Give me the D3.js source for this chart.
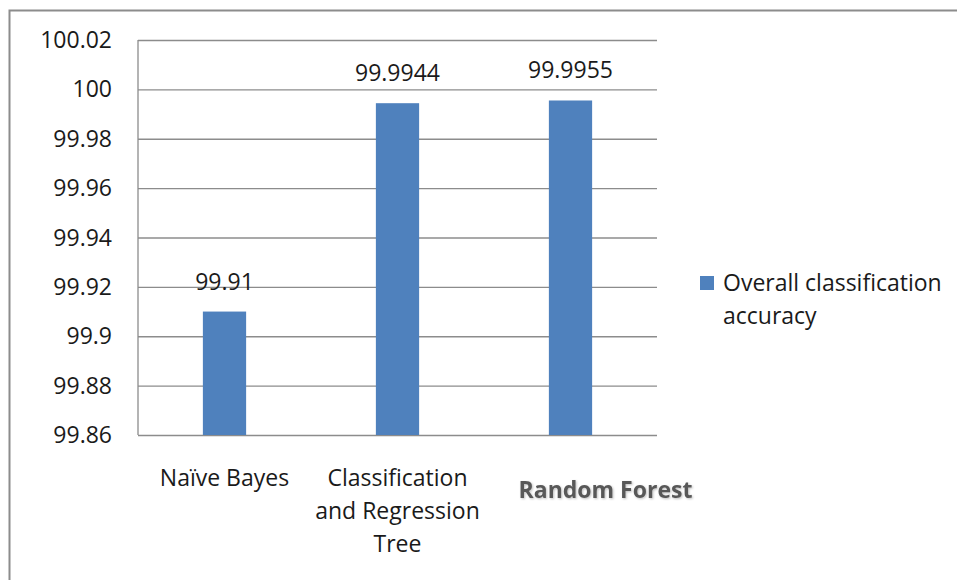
<!DOCTYPE html>
<html>
<head>
<meta charset="utf-8">
<script src="https://cdn.jsdelivr.net/npm/d3@7/dist/d3.min.js"></script>
<style>
  html, body { margin: 0; padding: 0; background: #fff; }
  svg { display: block; }
  text { font-family: "Open Sans", Lato, sans-serif; }
</style>
</head>
<body>
<script>
// Chart data
const categories = [["Naïve Bayes"], ["Classification", "and Regression", "Tree"], ["Random Forest"]];
const values = [99.91, 99.9944, 99.9955];
const valueLabels = ["99.91", "99.9944", "99.9955"];
const yTicks = [99.86, 99.88, 99.9, 99.92, 99.94, 99.96, 99.98, 100, 100.02];
const yTickLabels = ["99.86", "99.88", "99.9", "99.92", "99.94", "99.96", "99.98", "100", "100.02"];
const seriesName = ["Overall classification", "accuracy"];

const W = 957, H = 580;
const plot = { left: 138, right: 657, top: 40, bottom: 435 };
const barColor = "#4F81BD";
const textColor = "#1a1a1a";
const fontSize = 23;

const svg = d3.select("body").append("svg").attr("width", W).attr("height", H);

// outer frame
svg.append("rect")
  .attr("x", 9.5).attr("y", 10.5).attr("width", W + 10).attr("height", H + 10)
  .attr("fill", "#fff").attr("stroke", "#8c8c8c").attr("stroke-width", 2);

const idx = categories.map((d, i) => i);
const x = d3.scaleBand().domain(idx).range([plot.left, plot.right]).paddingInner(0.75).paddingOuter(0.375);
const y = d3.scaleLinear().domain([99.86, 100.02]).range([plot.bottom, plot.top]);

// horizontal gridlines
svg.append("g")
  .attr("transform", `translate(${plot.left},0)`)
  .call(d3.axisLeft(y).tickValues(yTicks).tickSize(-(plot.right - plot.left)).tickFormat(""))
  .call(g => g.select(".domain").remove())
  .call(g => g.selectAll("line").attr("stroke", "#8c8c8c").attr("stroke-width", 1.3));

// y axis line
svg.append("line")
  .attr("x1", plot.left).attr("x2", plot.left)
  .attr("y1", y(100.02)).attr("y2", y(99.86))
  .attr("stroke", "#8c8c8c").attr("stroke-width", 1.3);

// y tick labels
svg.append("g").selectAll("text").data(yTicks).join("text")
  .attr("x", 112).attr("y", d => y(d) + 8)
  .attr("text-anchor", "end")
  .attr("font-size", fontSize).attr("fill", textColor)
  .text((d, i) => yTickLabels[i]);

// bars
svg.append("g").selectAll("rect").data(values).join("rect")
  .attr("x", (d, i) => x(i))
  .attr("width", x.bandwidth())
  .attr("y", d => y(d))
  .attr("height", d => y(99.86) - y(d))
  .attr("fill", barColor);

// value labels
svg.append("g").selectAll("text").data(values).join("text")
  .attr("x", (d, i) => x(i) + x.bandwidth() / 2)
  .attr("y", d => y(d) - 22)
  .attr("text-anchor", "middle")
  .attr("font-size", fontSize).attr("fill", textColor)
  .text((d, i) => valueLabels[i]);

// category labels
const defs = svg.append("defs");
defs.append("filter").attr("id", "soft").attr("x", "-10%").attr("y", "-30%").attr("width", "130%").attr("height", "160%")
  .append("feDropShadow").attr("dx", 1).attr("dy", 1).attr("stdDeviation", 0.8)
  .attr("flood-color", "#000").attr("flood-opacity", 0.25);

const catG = svg.append("g");
categories.forEach((lines, i) => {
  const cx = x(i) + x.bandwidth() / 2;
  const bold = i === 2;
  const t = catG.append("text")
    .attr("text-anchor", "middle")
    .attr("font-size", fontSize)
    .attr("fill", bold ? "#595959" : textColor)
    .attr("font-weight", bold ? "bold" : "normal")
    .attr("filter", bold ? "url(#soft)" : null);
  lines.forEach((ln, j) => {
    t.append("tspan")
      .attr("x", bold ? cx + 35 : cx)
      .attr("y", (bold ? 498 : 486) + j * 33)
      .text(ln);
  });
});

// legend
const lg = svg.append("g");
lg.append("rect").attr("x", 700).attr("y", 276).attr("width", 14).attr("height", 14).attr("fill", barColor);
seriesName.forEach((ln, j) => {
  lg.append("text").attr("x", 723).attr("y", 291 + j * 33)
    .attr("font-size", fontSize).attr("fill", textColor).text(ln);
});
</script>
</body>
</html>
